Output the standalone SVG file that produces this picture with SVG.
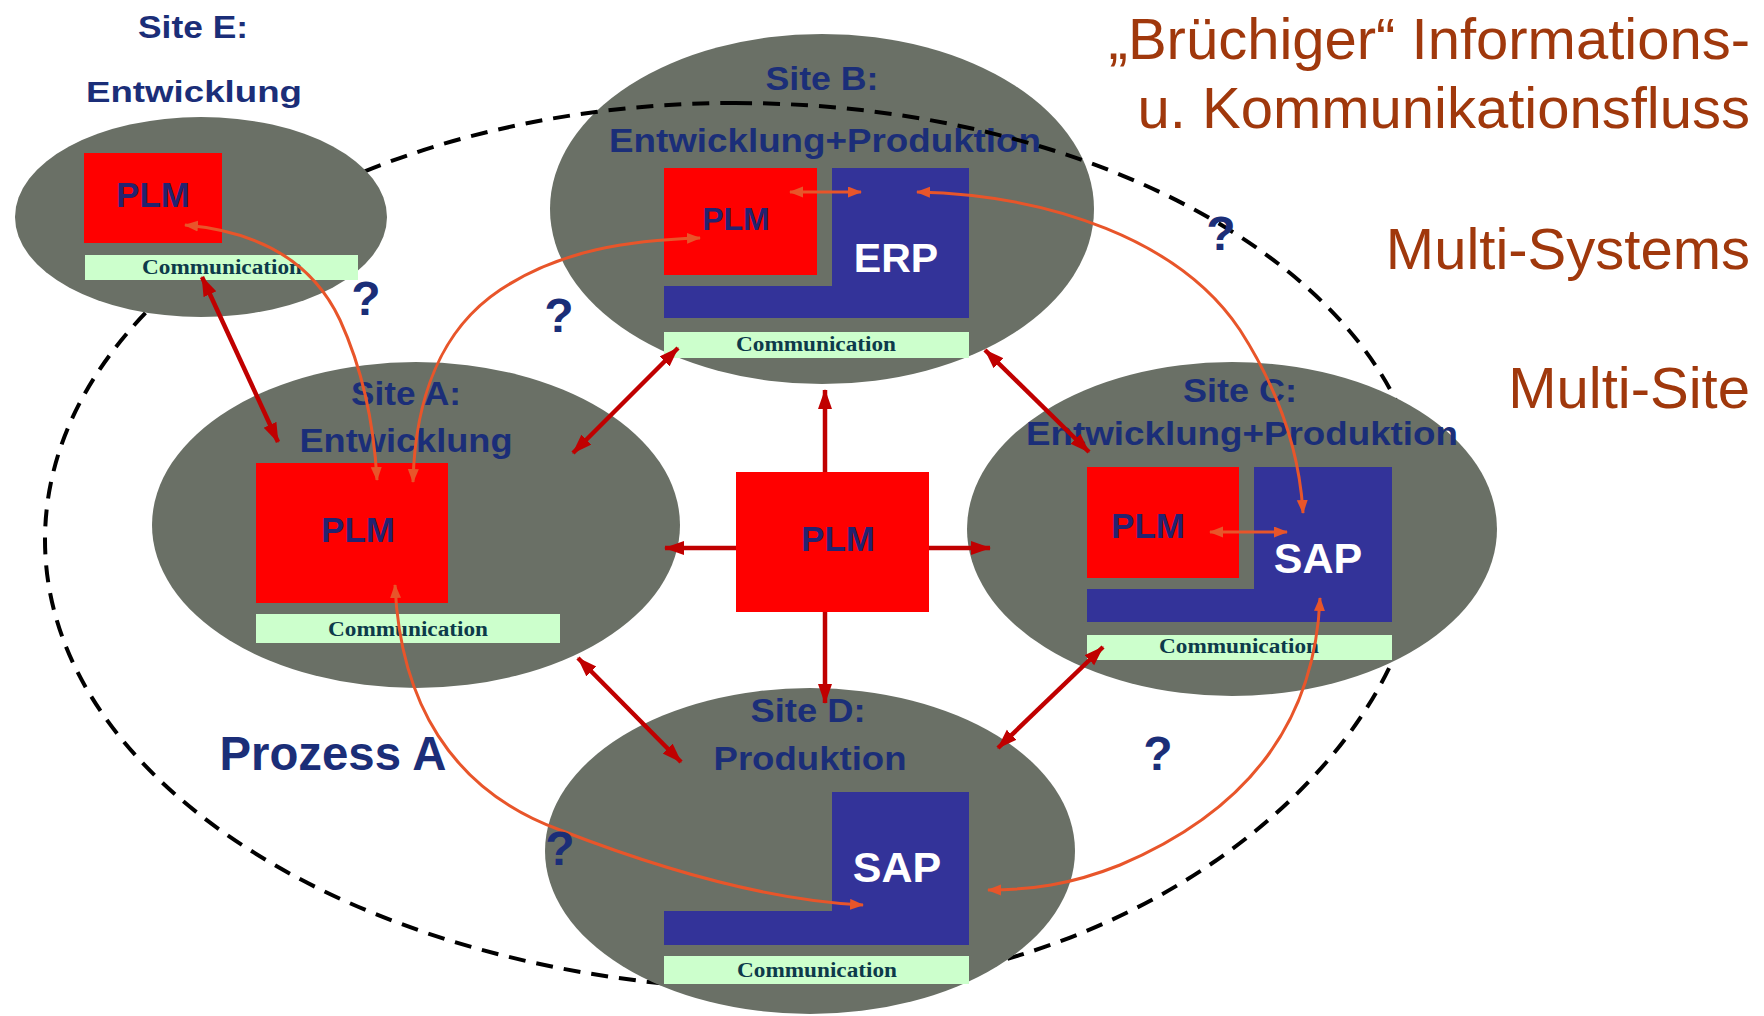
<svg xmlns="http://www.w3.org/2000/svg" width="1764" height="1016" viewBox="0 0 1764 1016">
<style>
.site{fill:#6a7066}
.plm{fill:#ff0000}
.sys{fill:#333399}
.comm{fill:#ccffcc}
.lbl{font-family:"Liberation Sans",Arial,sans-serif;font-weight:bold;fill:#1b2e78;text-anchor:middle}
.plmt{font-family:"Liberation Sans",Arial,sans-serif;font-weight:bold;fill:#232370;text-anchor:middle}
.syst{font-family:"Liberation Sans",Arial,sans-serif;font-weight:bold;fill:#ffffff;text-anchor:middle}
.commt{font-family:"Liberation Serif","Times New Roman",serif;font-weight:bold;font-size:20px;fill:#0d3a4a;text-anchor:middle}
.title{font-family:"Liberation Sans",Arial,sans-serif;font-size:58px;fill:#a0380c;text-anchor:end}
.q{font-family:"Liberation Sans",Arial,sans-serif;font-weight:bold;font-size:48px;fill:#1b2e78;text-anchor:middle}
.link{fill:none;stroke:#c00000;stroke-width:4.5}
.flow{fill:none;stroke:#e8552a;stroke-width:3}
</style>
<defs>
<marker id="ah" markerUnits="userSpaceOnUse" markerWidth="22" markerHeight="16" refX="19" refY="7" orient="auto-start-reverse"><path d="M0,0 L20,7 L0,14 z" fill="#c00000"/></marker>
<marker id="oh" markerUnits="userSpaceOnUse" markerWidth="16" markerHeight="12" refX="13" refY="5.5" orient="auto-start-reverse"><path d="M0,0 L14,5.5 L0,11 z" fill="#e8552a"/></marker>
</defs>
<rect width="1764" height="1016" fill="#ffffff"/>

<g id="site-b">
<ellipse class="site" cx="822" cy="209" rx="272" ry="175"/>
<text class="lbl" x="822" y="90" font-size="34" textLength="113" lengthAdjust="spacingAndGlyphs">Site B:</text>
<text class="lbl" x="825" y="152" font-size="34" textLength="432" lengthAdjust="spacingAndGlyphs">Entwicklung+Produktion</text>
<rect class="sys" x="832" y="168" width="137" height="150"/>
<rect class="sys" x="664" y="286" width="305" height="32"/>
<rect class="plm" x="664" y="168" width="153" height="107"/>
<text class="plmt" x="736" y="230" font-size="32">PLM</text>
<text class="syst" x="896" y="272" font-size="41">ERP</text>
<rect class="comm" x="664" y="332" width="305" height="26"/>
<text class="commt" x="816" y="351" textLength="160" lengthAdjust="spacingAndGlyphs">Communication</text>
</g>

<g id="boundary">
<path d="M735,103 C1113,103 1425,290 1425,520 C1425,765 1130,990 790,990 C379,990 45,789 45,540 C45,299 354,103 735,103 Z" fill="none" stroke="#000000" stroke-width="4" stroke-dasharray="17 11"/>
</g>

<g id="site-e">
<ellipse class="site" cx="201" cy="217" rx="186" ry="100"/>
<rect class="plm" x="84" y="153" width="138" height="90"/>
<text class="plmt" x="153" y="207" font-size="35">PLM</text>
<rect class="comm" x="85" y="255" width="273" height="25"/>
<text class="commt" x="222" y="274" textLength="160" lengthAdjust="spacingAndGlyphs">Communication</text>
</g>

<g id="site-a">
<ellipse class="site" cx="416" cy="525" rx="264" ry="163"/>
<text class="lbl" x="406" y="405" font-size="34" textLength="110" lengthAdjust="spacingAndGlyphs">Site A:</text>
<text class="lbl" x="406" y="452" font-size="34" textLength="213" lengthAdjust="spacingAndGlyphs">Entwicklung</text>
<rect class="plm" x="256" y="463" width="192" height="140"/>
<text class="plmt" x="358" y="542" font-size="35">PLM</text>
<rect class="comm" x="256" y="614" width="304" height="29"/>
<text class="commt" x="408" y="636" textLength="160" lengthAdjust="spacingAndGlyphs">Communication</text>
</g>

<g id="site-c">
<ellipse class="site" cx="1232" cy="529" rx="265" ry="167"/>
<text class="lbl" x="1240" y="402" font-size="34" textLength="114" lengthAdjust="spacingAndGlyphs">Site C:</text>
<text class="lbl" x="1242" y="445" font-size="34" textLength="432" lengthAdjust="spacingAndGlyphs">Entwicklung+Produktion</text>
<rect class="sys" x="1254" y="467" width="138" height="155"/>
<rect class="sys" x="1087" y="589" width="305" height="33"/>
<rect class="plm" x="1087" y="467" width="152" height="111"/>
<text class="plmt" x="1148" y="538" font-size="35">PLM</text>
<text class="syst" x="1318" y="573" font-size="43">SAP</text>
<rect class="comm" x="1087" y="635" width="305" height="25"/>
<text class="commt" x="1239" y="653" textLength="160" lengthAdjust="spacingAndGlyphs">Communication</text>
</g>

<g id="site-d">
<ellipse class="site" cx="810" cy="851" rx="265" ry="163"/>
<text class="lbl" x="808" y="722" font-size="34" textLength="115" lengthAdjust="spacingAndGlyphs">Site D:</text>
<text class="lbl" x="810" y="770" font-size="34" textLength="193" lengthAdjust="spacingAndGlyphs">Produktion</text>
<rect class="sys" x="832" y="792" width="137" height="153"/>
<rect class="sys" x="664" y="911" width="305" height="34"/>
<text class="syst" x="897" y="882" font-size="43">SAP</text>
<rect class="comm" x="664" y="956" width="305" height="28"/>
<text class="commt" x="817" y="977" textLength="160" lengthAdjust="spacingAndGlyphs">Communication</text>
</g>

<g id="site-e-label">
<text class="lbl" x="193" y="38" font-size="32" textLength="110" lengthAdjust="spacingAndGlyphs">Site E:</text>
<text class="lbl" x="194" y="102" font-size="29" textLength="216" lengthAdjust="spacingAndGlyphs">Entwicklung</text>
</g>

<g id="plm-center">
<rect class="plm" x="736" y="472" width="193" height="140"/>
<text class="plmt" x="838" y="551" font-size="35">PLM</text>
</g>

<g id="connectors">
<line class="link" x1="202" y1="277" x2="278" y2="442" marker-start="url(#ah)" marker-end="url(#ah)"/>
<line class="link" x1="573" y1="453" x2="678" y2="348" marker-start="url(#ah)" marker-end="url(#ah)"/>
<line class="link" x1="985" y1="350" x2="1089" y2="452" marker-start="url(#ah)" marker-end="url(#ah)"/>
<line class="link" x1="578" y1="658" x2="681" y2="762" marker-start="url(#ah)" marker-end="url(#ah)"/>
<line class="link" x1="1103" y1="647" x2="998" y2="748" marker-start="url(#ah)" marker-end="url(#ah)"/>
<line class="link" x1="825" y1="472" x2="825" y2="390" marker-end="url(#ah)"/>
<line class="link" x1="736" y1="548" x2="665" y2="548" marker-end="url(#ah)"/>
<line class="link" x1="929" y1="548" x2="990" y2="548" marker-end="url(#ah)"/>
<line class="link" x1="825" y1="612" x2="825" y2="703" marker-end="url(#ah)"/>

<path class="flow" d="M185,225 Q300,235 340,320 Q372,390 377,480" marker-start="url(#oh)" marker-end="url(#oh)"/>
<path class="flow" d="M413,482 C415,400 440,330 500,290 C560,250 630,240 700,238" marker-start="url(#oh)" marker-end="url(#oh)"/>
<path class="flow" d="M917,192 C1050,195 1180,240 1240,330 C1285,400 1300,460 1303,513" marker-start="url(#oh)" marker-end="url(#oh)"/>
<line class="flow" x1="790" y1="192" x2="861" y2="192" marker-start="url(#oh)" marker-end="url(#oh)"/>
<line class="flow" x1="1210" y1="532" x2="1287" y2="532" marker-start="url(#oh)" marker-end="url(#oh)"/>
<path class="flow" d="M395,585 C400,700 450,790 560,830 C650,865 760,900 863,905" marker-start="url(#oh)" marker-end="url(#oh)"/>
<path class="flow" d="M1320,598 C1315,720 1250,810 1120,865 C1070,885 1030,890 988,890" marker-start="url(#oh)" marker-end="url(#oh)"/>
</g>

<g id="annotations">
<text class="q" x="366" y="315">?</text>
<text class="q" x="559" y="332">?</text>
<text class="q" x="1221" y="250">?</text>
<text class="q" x="1158" y="770">?</text>
<text class="q" x="560" y="865">?</text>
<text class="lbl" x="333" y="770" font-size="48" textLength="227" lengthAdjust="spacingAndGlyphs">Prozess A</text>
<text class="title" x="1750" y="59">„Brüchiger“ Informations-</text>
<text class="title" x="1750" y="128">u. Kommunikationsfluss</text>
<text class="title" x="1750" y="269">Multi-Systems</text>
<text class="title" x="1750" y="408">Multi-Site</text>
</g>
</svg>
